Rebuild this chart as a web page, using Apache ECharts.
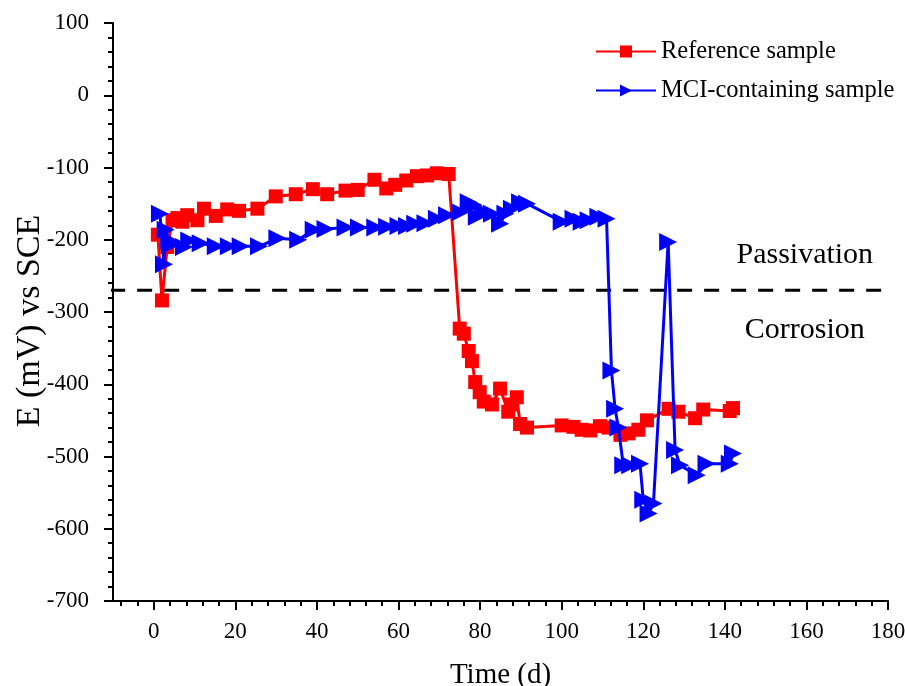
<!DOCTYPE html>
<html>
<head>
<meta charset="utf-8">
<script src="https://cdn.jsdelivr.net/npm/echarts@6/dist/echarts.min.js"></script>
<style>html,body{margin:0;padding:0;background:#fff}#c{width:905px;height:686px}</style>
</head>
<body>
<div id="c"></div>
<script>
const referenceSample = [[1,-193],[2,-284],[3.3,-210],[4.6,-173],[5.8,-170],[7,-175],[8.2,-166],[10.7,-173],[12.3,-157],[15.2,-167],[18,-158],[20.9,-160],[25.4,-157],[29.9,-140],[34.8,-137],[39,-130],[42.5,-137],[47,-132],[50,-131],[54.1,-117],[57,-129],[59.2,-124],[61.9,-118],[64.5,-112],[67,-111],[69.4,-108],[72.3,-109],[75,-323],[76,-330],[77.2,-354],[78,-368],[78.8,-397],[79.9,-411],[80.9,-424],[82.9,-428],[84.9,-406],[86.9,-438],[87.8,-428],[89,-418],[89.8,-455],[91.5,-460],[100,-457],[102.9,-459],[104.9,-463],[107,-464],[109.4,-458],[111.5,-460],[114.4,-470],[116.4,-468],[118.8,-463],[120.9,-450],[126.2,-434],[128.6,-438],[132.7,-447],[134.7,-435],[141.2,-437],[142,-433]];
const mciSample = [[1.5,-164],[2.5,-234],[2.9,-186],[3.8,-201],[5,-205],[7.4,-210],[8.7,-201],[11.5,-205],[15.2,-209],[18.4,-209],[21.3,-209],[25.8,-209],[30.3,-198],[35.4,-200],[39.2,-186],[42.1,-185],[47,-183],[50.3,-183],[54.3,-183],[57.2,-182],[60,-181],[62.1,-181],[64.1,-178],[66.6,-177],[69.4,-171],[71.9,-166],[75.2,-162],[77.2,-148],[78.4,-152],[79.2,-168],[80.9,-161],[82.9,-164],[84.9,-178],[86.2,-164],[87.8,-157],[89.8,-148],[91.5,-150],[100,-175],[102.9,-171],[104.9,-175],[106.6,-173],[109,-168],[111,-171],[112.2,-381],[113.1,-434],[113.9,-460],[115.1,-512],[116.8,-512],[119.2,-510],[120,-560],[121.3,-579],[122.5,-565],[126.1,-203],[127.8,-491],[129,-512],[133.1,-526],[135.5,-510],[141.2,-510],[142,-496]];
const threshold = -270;
const thresholdSpan = [-10.7, 184];
const xTicks = [0,20,40,60,80,100,120,140,160,180];
const xMinorTicks = [-8,-4,4,8,12,16,24,28,32,36,44,48,52,56,64,68,72,76,84,88,92,96,104,108,112,116,124,128,132,136,144,148,152,156,164,168,172,176];
const zoneLabels = [{name:'Passivation', value:[159.6,-221]},{name:'Corrosion', value:[159.6,-325]}];
const seriesNames = ['Reference sample','MCI-containing sample'];

const FONT = "'Liberation Serif','Times New Roman',serif";
const chart = echarts.init(document.getElementById('c'));
chart.setOption({
  animation: false,
  backgroundColor: '#fff',
  grid: {left: 113, right: 17, top: 23, bottom: 85, outerBoundsMode: 'none', containLabel: false},
  legend: {
    data: seriesNames, orient: 'vertical', left: 590, top: 34,
    itemWidth: 60, itemHeight: 15, itemGap: 14,
    textStyle: {fontFamily: FONT, fontSize: 24.5, color: '#000'}
  },
  xAxis: [{
    type: 'value', min: -10, max: 180,
    name: 'Time (d)', nameLocation: 'middle', nameGap: 60, nameMoveOverlap: false,
    nameTextStyle: {fontFamily: FONT, fontSize: 29, color: '#000'},
    axisLine: {onZero: false, lineStyle: {color: '#000', width: 2}},
    axisTick: {show: true, customValues: xTicks, length: 9, lineStyle: {color: '#000', width: 2}},
    axisLabel: {customValues: xTicks, margin: 19, fontFamily: FONT, fontSize: 23, color: '#000'},
    splitLine: {show: false}
  },{
    type: 'value', min: -10, max: 180, position: 'bottom', offset: 0,
    axisLine: {show: false, onZero: false},
    axisTick: {show: true, customValues: xMinorTicks, length: 5, lineStyle: {color: '#000', width: 2}},
    axisLabel: {show: false},
    splitLine: {show: false}
  }],
  yAxis: {
    type: 'value', min: -700, max: 100, interval: 100,
    name: 'E (mV) vs SCE', nameLocation: 'middle', nameGap: 66, nameMoveOverlap: false,
    nameTextStyle: {fontFamily: FONT, fontSize: 34, color: '#000', padding: [0, 18, 0, 0]},
    axisLine: {show: true, onZero: false, lineStyle: {color: '#000', width: 2}},
    axisTick: {show: true, length: 9, lineStyle: {color: '#000', width: 2}},
    minorTick: {show: true, splitNumber: 5, length: 5, lineStyle: {color: '#000', width: 2}},
    axisLabel: {margin: 24, fontFamily: FONT, fontSize: 23, color: '#000'},
    splitLine: {show: false}
  },
  series: [{
    name: 'threshold', type: 'line', clip: false, silent: true, symbol: 'none', z: 1,
    data: [[thresholdSpan[0], threshold],[thresholdSpan[1], threshold]],
    lineStyle: {color: '#000', width: 3, type: [15, 12]}
  },{
    name: seriesNames[0], type: 'line', data: referenceSample,
    symbol: 'rect', symbolSize: 14, z: 3,
    itemStyle: {color: '#ff0000'}, lineStyle: {color: '#ff0000', width: 3}
  },{
    name: seriesNames[1], type: 'line', data: mciSample,
    symbol: 'triangle', symbolRotate: -90, symbolSize: 18, z: 4,
    itemStyle: {color: '#0000ff'}, lineStyle: {color: '#0000ff', width: 3}
  },{
    name: 'zones', type: 'scatter', data: zoneLabels, symbolSize: 0, silent: true,
    itemStyle: {color: 'rgba(0,0,0,0)'},
    label: {show: true, position: 'inside', formatter: '{b}', fontFamily: FONT, fontSize: 30, color: '#000', opacity: 1, textBorderWidth: 0}
  }]
});
</script>
</body>
</html>
